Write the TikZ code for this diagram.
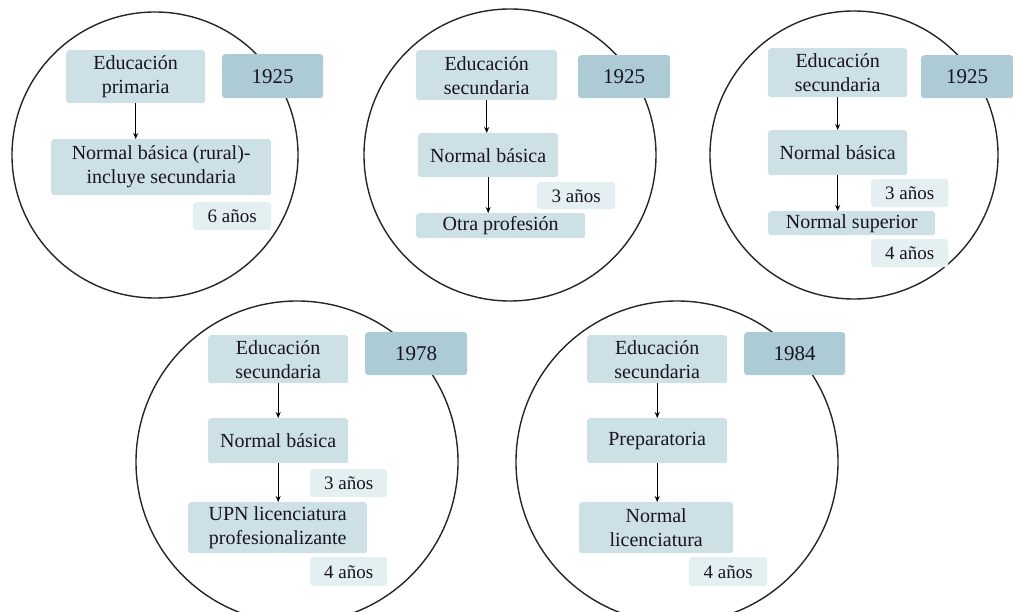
\documentclass[tikz,border=0pt]{standalone}
\usepackage{fontspec}
\setmainfont{Liberation Serif}
\usetikzlibrary{arrows.meta}
\definecolor{boxc}{RGB}{204,224,230}
\definecolor{yearc}{RGB}{172,203,212}
\definecolor{durc}{RGB}{228,239,242}
\definecolor{txt}{RGB}{25,20,35}
\tikzset{
 box/.style={fill=boxc, rounded corners=3pt, inner sep=0pt, align=center, anchor=north west, text=txt, font=\fontsize{20}{24}\selectfont},
 yearbox/.style={box, fill=yearc, font=\fontsize{21}{24}\selectfont},
 durbox/.style={box, fill=durc, font=\fontsize{19}{22}\selectfont},
 arr/.style={-{Stealth[length=6pt,width=5pt]}, line width=1.3pt, black},
 ring/.style={draw=black!85, line width=1.4pt}
}
\begin{document}
\begin{tikzpicture}[x=1pt,y=-1pt]
\useasboundingbox (0,0) rectangle (1013,612);
% circles
\draw[ring] (155,155) circle (143);
\draw[ring] (510,155) circle (146);
\draw[ring] (854,155) circle (144);
\draw[ring] (297,462) circle (161);
\draw[ring] (677,462) circle (161);
% circle 1
\node[box, minimum width=139pt, minimum height=53pt] (e1) at (66,50) {Educación\\primaria};
\node[yearbox, minimum width=101pt, minimum height=44pt] (y1) at (222,54) {1925};
\node[box, minimum width=220pt, minimum height=56pt] (n1) at (51,139) {Normal básica (rural)-\\incluye secundaria};
\node[durbox, minimum width=78pt, minimum height=28pt] (d1) at (193,202) {6 años};
\draw[arr] (e1.south) -- (e1.south |- n1.north);
% circle 2
\node[box, minimum width=141pt, minimum height=50pt] (e2) at (416,50) {Educación\\secundaria};
\node[yearbox, minimum width=92pt, minimum height=43pt] (y2) at (578,55) {1925};
\node[box, minimum width=140pt, minimum height=44pt] (n2) at (418,133) {Normal básica};
\node[durbox, minimum width=78pt, minimum height=27pt] (d2) at (537,182) {3 años};
\node[box, minimum width=169pt, minimum height=25pt] (o2) at (416,213) {Otra profesión};
\draw[arr] (e2.south) -- (e2.south |- n2.north);
\draw[arr] (n2.south) -- (n2.south |- o2.north);
% circle 3
\node[box, minimum width=139pt, minimum height=49pt] (e3) at (768,48) {Educación\\secundaria};
\node[yearbox, minimum width=92pt, minimum height=43pt] (y3) at (921,55) {1925};
\node[box, minimum width=139pt, minimum height=45pt] (n3) at (768,130) {Normal básica};
\node[durbox, minimum width=77pt, minimum height=28pt] (d3) at (871,179) {3 años};
\node[box, minimum width=167pt, minimum height=24pt] (s3) at (768,211) {Normal superior};
\node[durbox, minimum width=77pt, minimum height=28pt] (f3) at (871,239) {4 años};
\draw[arr] (e3.south) -- (e3.south |- n3.north);
\draw[arr] (n3.south) -- (n3.south |- s3.north);
% circle 4
\node[box, minimum width=140pt, minimum height=48pt] (e4) at (208,335) {Educación\\secundaria};
\node[yearbox, minimum width=102pt, minimum height=43pt] (y4) at (365,332) {1978};
\node[box, minimum width=140pt, minimum height=45pt] (n4) at (208,418) {Normal básica};
\node[durbox, minimum width=77pt, minimum height=28pt] (d4) at (310,469) {3 años};
\node[box, minimum width=179pt, minimum height=51pt] (u4) at (188,502) {UPN licenciatura\\profesionalizante};
\node[durbox, minimum width=77pt, minimum height=29pt] (f4) at (310,557) {4 años};
\draw[arr] (e4.south) -- (e4.south |- n4.north);
\draw[arr] (n4.south) -- (n4.south |- u4.north);
% circle 5
\node[box, minimum width=140pt, minimum height=48pt] (e5) at (587,335) {Educación\\secundaria};
\node[yearbox, minimum width=101pt, minimum height=43pt] (y5) at (744,332) {1984};
\node[box, minimum width=140pt, minimum height=45pt] (p5) at (587,418) {Preparatoria};
\node[box, minimum width=154pt, minimum height=51pt] (l5) at (579,502) {Normal\\licenciatura};
\node[durbox, minimum width=78pt, minimum height=29pt] (f5) at (689,557) {4 años};
\draw[arr] (e5.south) -- (e5.south |- p5.north);
\draw[arr] (p5.south) -- (p5.south |- l5.north);
\end{tikzpicture}
\end{document}
